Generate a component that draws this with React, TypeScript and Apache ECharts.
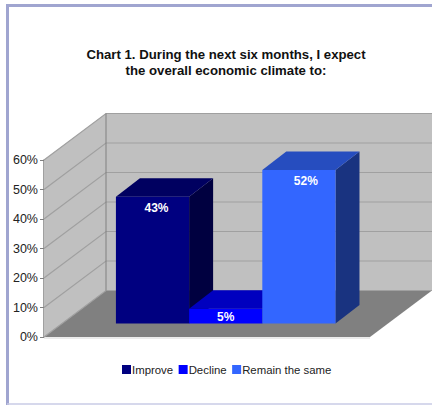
import React, { useEffect, useRef } from "react";
import * as echarts from "echarts";

// Survey shares, one series per answer, all on a single unnamed category.
const categories = [""];
const seriesNames = ["Improve", "Decline", "Remain the same"];
const improveValues = [43];
const declineValues = [5];
const remainValues = [52];
const tickValues = [0, 10, 20, 30, 40, 50, 60];
const titleLines = [
  "Chart 1. During the next six months, I expect",
  "the overall economic climate to:",
];

const seriesValues = [improveValues, declineValues, remainValues];
const frontColors = ["#000080", "#0000ff", "#3366ff"];
const topColors = ["#000060", "#0000bf", "#264dbf"];
const sideColors = ["#000040", "#00007f", "#193380"];
const labelNudge = [4, 0, 7];

// Oblique projection of the box: full floor depth and the plane the bars stand on.
const DEPTH_X = 62;
const DEPTH_Y = 46.5;
const BAR_DEPTH_X = 24;
const BAR_DEPTH_Y = 18.5;
const BAR_SHIFT_X = 18.7;
const BAR_SHIFT_Y = 13.5;
const BAR_BAND_RATIO = 0.2245;

const FONT = '"Liberation Sans", Arial, sans-serif';

function polygon(points: number[][], fill: string, stroke?: string) {
  return {
    type: "polygon",
    shape: { points },
    style: { fill, stroke: stroke ?? fill, lineWidth: stroke ? 0.5 : 0 },
  };
}

// Walls, floor and gridlines, positioned through the value axis.
function renderBox(params: any, api: any) {
  if (params.dataIndex !== 0) return null;
  const left = api.coord([0, 0])[0] - api.size([1, 0])[0] / 2;
  const right = left + api.size([1, 0])[0];
  const y0 = api.coord([0, tickValues[0]])[1];
  const yTop = api.coord([0, tickValues[tickValues.length - 1]])[1];
  const children: any[] = [
    polygon(
      [
        [left, y0],
        [left + DEPTH_X, y0 - DEPTH_Y],
        [left + DEPTH_X, yTop - DEPTH_Y],
        [left, yTop],
      ],
      "#c0c0c0",
    ),
    polygon(
      [
        [left + DEPTH_X, y0 - DEPTH_Y],
        [right + DEPTH_X, y0 - DEPTH_Y],
        [right + DEPTH_X, yTop - DEPTH_Y],
        [left + DEPTH_X, yTop - DEPTH_Y],
      ],
      "#c0c0c0",
    ),
    polygon(
      [
        [left, y0],
        [right, y0],
        [right + DEPTH_X, y0 - DEPTH_Y],
        [left + DEPTH_X, y0 - DEPTH_Y],
      ],
      "#808080",
    ),
  ];
  tickValues.forEach((tick) => {
    const y = api.coord([0, tick])[1];
    children.push({
      type: "polyline",
      shape: {
        points: [
          [left, y],
          [left + DEPTH_X, y - DEPTH_Y],
          [right + DEPTH_X, y - DEPTH_Y],
        ],
      },
      style: { fill: "none", stroke: "#a0a0a0", lineWidth: 1.2 },
    });
  });
  children.push(
    {
      type: "line",
      shape: { x1: left + DEPTH_X, y1: y0 - DEPTH_Y, x2: left + DEPTH_X, y2: yTop - DEPTH_Y },
      style: { stroke: "#808080", lineWidth: 1 },
    },
    {
      type: "line",
      shape: { x1: left, y1: y0 + 1, x2: right, y2: y0 + 1 },
      style: { stroke: "#d8d8d8", lineWidth: 1 },
    },
  );
  return { type: "group", children };
}

// One oblique bar; the cluster sits side by side inside the single category band.
function renderBar(seriesIndex: number) {
  return (params: any, api: any) => {
    const band = api.size([1, 0])[0];
    const width = band * BAR_BAND_RATIO;
    const value = api.value(1);
    const center = api.coord([0, 0])[0] + BAR_SHIFT_X;
    const x0 = center + (seriesIndex - 1.5) * width;
    const x1 = x0 + width;
    const yBase = api.coord([0, 0])[1] - BAR_SHIFT_Y;
    const yTop = api.coord([0, value])[1] - BAR_SHIFT_Y;
    const dx = BAR_DEPTH_X;
    const dy = BAR_DEPTH_Y;
    return {
      type: "group",
      children: [
        polygon(
          [
            [x1, yBase],
            [x1 + dx, yBase - dy],
            [x1 + dx, yTop - dy],
            [x1, yTop],
          ],
          sideColors[seriesIndex],
        ),
        polygon(
          [
            [x0, yTop],
            [x0 + dx, yTop - dy],
            [x1 + dx, yTop - dy],
            [x1, yTop],
          ],
          topColors[seriesIndex],
        ),
        {
          type: "rect",
          shape: { x: x0, y: yTop, width: x1 - x0, height: yBase - yTop },
          style: { fill: frontColors[seriesIndex] },
        },
        {
          type: "text",
          x: (x0 + x1) / 2 + labelNudge[seriesIndex],
          y: yTop + Math.min(11, (yBase - yTop) / 2 + 0.5),
          style: {
            text: `${value}%`,
            fill: "#ffffff",
            font: `bold 12px ${FONT}`,
            align: "center",
            verticalAlign: "middle",
          },
        },
      ],
    };
  };
}

export default function App() {
  const ref = useRef<HTMLDivElement>(null);

  useEffect(() => {
    document.body.style.margin = "0";
    const chart = echarts.init(ref.current!, undefined, { renderer: "svg" });
    chart.setOption({
      animation: false,
      backgroundColor: "#ffffff",
      title: {
        text: titleLines.join("\n"),
        left: 221,
        top: 41,
        textAlign: "center",
        textStyle: {
          fontFamily: FONT,
          fontSize: 13.2,
          fontWeight: "bold",
          color: "#111111",
          lineHeight: 16.5,
        },
      },
      legend: {
        data: seriesNames.map((name, i) => ({
          name,
          itemStyle: { color: frontColors[i] },
        })),
        left: 117,
        top: 359,
        itemWidth: 9,
        itemHeight: 9,
        itemGap: 5.5,
        icon: "rect",
        textStyle: {
          fontFamily: FONT,
          fontSize: 11.4,
          color: "#222222",
          padding: [0, 0, 0, -4],
        },
      },
      grid: { left: 44, top: 160, width: 326, height: 177 },
      xAxis: {
        type: "category",
        data: categories,
        axisLine: { show: false },
        axisTick: { show: false },
        axisLabel: { show: false },
      },
      yAxis: {
        type: "value",
        min: 0,
        max: 60,
        interval: 10,
        axisLine: { show: true, lineStyle: { color: "#808080", width: 1.5 } },
        axisTick: { show: true, length: 4, lineStyle: { color: "#808080" } },
        splitLine: { show: false },
        axisLabel: {
          formatter: "{value}%",
          margin: 6,
          padding: [2, 0, 0, 0],
          fontFamily: FONT,
          fontSize: 12.5,
          color: "#222222",
        },
      },
      graphic: [
        {
          type: "polyline",
          silent: true,
          z: 100,
          shape: {
            points: [
              [7.5, 405],
              [7.5, 5.5],
              [432, 5.5],
            ],
          },
          style: { fill: "none", stroke: "#a0a5d0", lineWidth: 3 },
        },
        {
          type: "line",
          silent: true,
          z: 100,
          shape: { x1: 7, y1: 404, x2: 432, y2: 404 },
          style: { stroke: "#c8cbe6", lineWidth: 1.5 },
        },
      ],
      series: [
        {
          type: "custom",
          name: "box",
          z: 1,
          clip: false,
          renderItem: renderBox,
          data: [[0, 0]],
          encode: { x: 0, y: 1 },
        },
        ...seriesNames.map((name, i) => ({
          type: "custom",
          name,
          z: 2 + i,
          clip: false,
          renderItem: renderBar(i),
          data: seriesValues[i].map((v, c) => [c, v]),
          encode: { x: 0, y: 1 },
          itemStyle: { color: frontColors[i] },
        })),
      ],
    });
    return () => chart.dispose();
  }, []);

  return <div ref={ref} style={{ width: 432, height: 405 }} />;
}
